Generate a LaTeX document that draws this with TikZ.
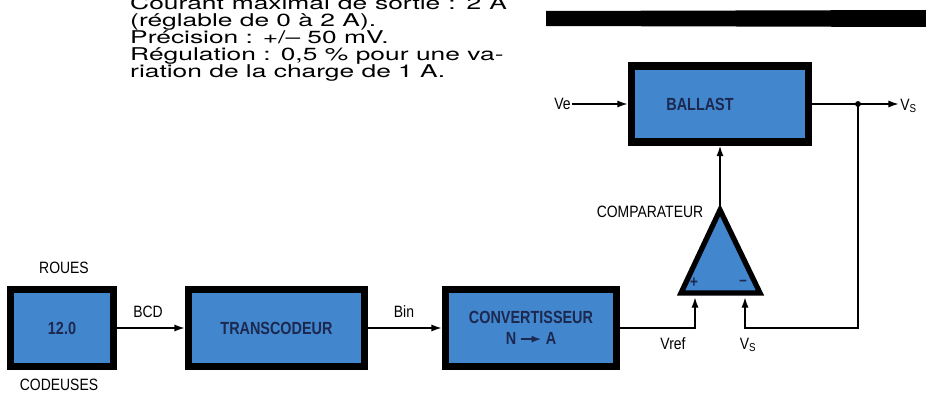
\documentclass[tikz,border=0pt]{standalone}
\usepackage{fontspec}
\setmainfont{TeX Gyre Heros}
\newfontfamily\notefont[FakeStretch=1.5]{TeX Gyre Heros}
\newfontfamily\tagfont[FakeStretch=0.85]{Liberation Sans}
\newfontfamily\blockfont[FakeStretch=0.82]{Liberation Sans Bold}
\usepackage{tikz}
\usetikzlibrary{arrows.meta,positioning}
\definecolor{blockblue}{RGB}{66,134,206}
\definecolor{blockink}{RGB}{28,40,78}

\tikzset{
  blockbox/.style={draw=black, fill=blockblue, line width=6pt, text=blockink,
    font=\blockfont\fontsize{15}{18}\selectfont, inner sep=0pt, align=center},
  tag/.style={font=\tagfont\fontsize{14}{16}\selectfont, inner sep=1pt},
  wire/.style={line width=1.5pt, -{Latex[length=9pt,width=6pt]}},
  plainwire/.style={line width=1.5pt},
  noteline/.style={anchor=base west, inner sep=0pt, font=\notefont\fontsize{15}{17}\selectfont},
}

\begin{document}
\begin{tikzpicture}[x=0.03cm, y=-0.03cm]
\useasboundingbox (0,0) rectangle (926,394);

% notes
\node[noteline] (note1) at (130,9.5)  {\makebox[11.3cm][s]{Courant maximal de sortie : 2 A}};
\node[noteline] (note2) at (130,26.5) {(réglable de 0 à 2 A).};
\node[noteline] (note3) at (130,43.5) {Précision : +/– 50 mV.};
\node[noteline] (note4) at (130,60.5) {\makebox[11.2cm][s]{Régulation : 0,5 \% pour une va-}};
\node[noteline] (note5) at (130,77.5) {riation de la charge de 1 A.};

% bar
\fill (546,11) -- (926,10) -- (926,27) -- (546,26) -- cycle;

% blocks
\node[blockbox, minimum width=3.09cm, minimum height=2.31cm] (roues) at (62,328) {12.0};
\node[blockbox, minimum width=5.28cm, minimum height=2.31cm] (transc) at (276.5,328) {TRANSCODEUR};
\node[blockbox, minimum width=5.13cm, minimum height=2.31cm] (conv) at (531,328)
  {CONVERTISSEUR\\[0pt] N~\tikz[baseline=-0.6ex]\draw[line width=1.4pt,-{Latex[length=8pt,width=6pt]}] (0,0) -- (0.6cm,0);~A};
\node[blockbox, minimum width=5.31cm, minimum height=2.28cm] (ballast) at (720,104) {BALLAST\hspace*{1.2cm}};

\node[tag] (rouestop) at (64,268) {ROUES};
\node[tag] (codeuses) at (59,385) {CODEUSES};

% comparator
\coordinate (cmp-o) at (720,210);
\coordinate (cmp-l) at (681,293);
\coordinate (cmp-r) at (760,293);
\filldraw[fill=blockblue, line width=4.5pt, line join=miter] (cmp-o) -- (cmp-l) -- (cmp-r) -- cycle;
\coordinate (cmp-p) at (695,297);
\coordinate (cmp-m) at (745,297);
\node[tag, text=blockink] (plus) at (694,283) {\blockfont +};
\node[tag, text=blockink] (minus) at (743,283) {\blockfont –};
\node[tag] (cmplabel) at (650,212) {COMPARATEUR};

% links
\draw[wire] (roues) -- (transc);
\node[tag] (bcd) at (148,312) {BCD};
\draw[wire] (transc) -- (conv);
\node[tag] (bin) at (404,312) {Bin};
\draw[wire] (conv.east) -| (cmp-p);
\node[tag] (vref) at (673,344) {Vref};
\draw[wire] (cmp-o) -- (ballast.south);

\node[tag, anchor=east] (vein) at (572,104) {Ve};
\draw[wire] (vein.east) -- (ballast.west);
\node[tag, anchor=west] (vsout) at (899,106) {V\textsubscript{S}};
\coordinate (junc) at (858,104);
\draw[plainwire] (ballast.east) -- (junc);
\draw[wire] (junc) -- (vsout.west |- junc);
\fill (junc) circle (2.5pt);
\coordinate (fb) at (858,328);
\draw[wire] (junc) -- (fb) -| (cmp-m);
\node[tag] (vsfb) at (748,345) {V\textsubscript{S}};
\end{tikzpicture}
\end{document}
